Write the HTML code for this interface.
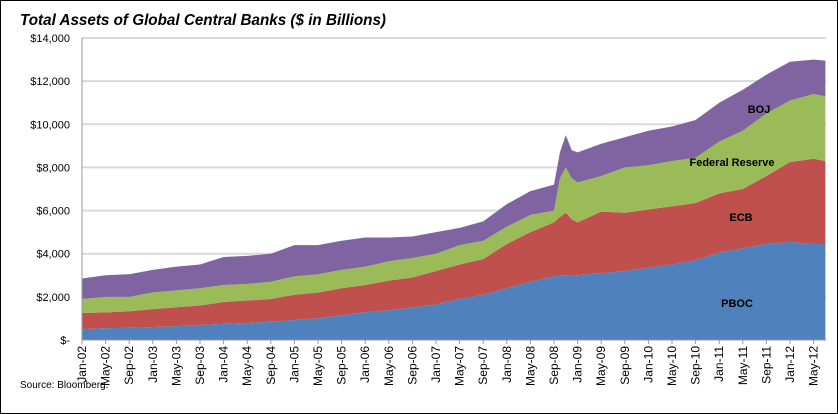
<!DOCTYPE html>
<html><head><meta charset="utf-8"><style>
body{margin:0;background:#fff;}
svg{display:block;font-family:"Liberation Sans",sans-serif;}
</style></head><body>
<svg width="838" height="414">
<rect x="0.5" y="0.5" width="837" height="413" fill="#fff" stroke="#000"/>
<text x="20" y="25" font-size="16" font-weight="bold" font-style="italic" fill="#000" textLength="366" lengthAdjust="spacingAndGlyphs">Total Assets of Global Central Banks ($ in Billions)</text>
<g id="grid"></g><g id="areas"></g><g id="axes"></g>
<text x="20" y="388" font-size="10" fill="#000">Source: Bloomberg.</text>
<text x="759" y="113" font-size="11" font-weight="bold" text-anchor="middle">BOJ</text>
<text x="732" y="166" font-size="11" font-weight="bold" text-anchor="middle">Federal Reserve</text>
<text x="741" y="221" font-size="11" font-weight="bold" text-anchor="middle">ECB</text>
<text x="737" y="307" font-size="11" font-weight="bold" text-anchor="middle">PBOC</text>
</svg>
<script>
const months=[0,4,8,12,16,20,24,28,32,36,40,44,48,52,56,60,64,68,72,76,80,81,82,83,84,88,92,96,100,104,108,112,116,120,124,126];
const pboc=[500,550,560,600,640,700,750,790,850,930,1000,1150,1280,1380,1500,1650,1900,2100,2400,2700,2950,2970,2980,2990,3000,3100,3200,3350,3500,3700,4050,4250,4450,4550,4450,4450];
const ecb=[750,730,770,830,880,900,1010,1040,1050,1170,1200,1250,1270,1370,1400,1550,1600,1650,2050,2300,2500,2730,2920,2610,2450,2850,2700,2700,2700,2650,2750,2750,3150,3700,3950,3850];
const fed=[650,720,670,770,780,800,790,770,800,850,850,850,850,900,900,800,900,850,800,800,550,1800,2100,1900,1850,1650,2100,2050,2100,2100,2400,2700,2900,2850,3000,3000];
const boj=[950,1000,1050,1050,1100,1100,1300,1300,1300,1450,1350,1350,1350,1100,1000,1000,800,900,1050,1100,1200,1200,1500,1300,1400,1500,1400,1600,1600,1750,1800,1900,1800,1800,1600,1650];
const yTicks=[0,2000,4000,6000,8000,10000,12000,14000];
const yTickLabels=["$-","$2,000","$4,000","$6,000","$8,000","$10,000","$12,000","$14,000"];
const xTickLabels=["Jan-02","May-02","Sep-02","Jan-03","May-03","Sep-03","Jan-04","May-04","Sep-04","Jan-05","May-05","Sep-05","Jan-06","May-06","Sep-06","Jan-07","May-07","Sep-07","Jan-08","May-08","Sep-08","Jan-09","May-09","Sep-09","Jan-10","May-10","Sep-10","Jan-11","May-11","Sep-11","Jan-12","May-12"];
const NS="http://www.w3.org/2000/svg";
const X0=82,PX=5.9,Y0=340,YTOP=38;
const xs=m=>X0+m*PX;
const ys=v=>Y0-v/14000*(Y0-YTOP);
function mk(t,a,p){const e=document.createElementNS(NS,t);for(const k in a)e.setAttribute(k,a[k]);p.appendChild(e);return e;}
const grid=document.getElementById('grid'),axes=document.getElementById('axes'),areas=document.getElementById('areas');
yTicks.forEach((v,i)=>{
 if(v>0){const l=mk('line',{x1:X0,x2:826,y1:ys(v),y2:ys(v),stroke:'#d9d9d9','stroke-width':2},grid);
 
 }
 const t=mk('text',{x:70,y:ys(v)+4,'font-size':11,'text-anchor':'end',fill:'#000'},axes);
 t.textContent=yTickLabels[i];
 
 
});
const series=[pboc,ecb,fed,boj],colors=['#4f81bd','#c0504d','#9bbb59','#8064a2'],names=['area-pboc','area-ecb','area-federal-reserve','area-boj'];
let base=months.map(()=>0);
series.forEach((s,si)=>{
 const top=s.map((v,i)=>base[i]+v);
 let d='M'+months.map((m,i)=>xs(m)+','+ys(top[i])).join('L');
 for(let i=months.length-1;i>=0;i--)d+='L'+xs(months[i])+','+ys(base[i]);
 d+='Z';
 const p=mk('path',{d:d,fill:colors[si]},areas);
 
 
 base=top;
});
const ax=mk('line',{x1:X0,x2:X0,y1:YTOP,y2:Y0+4,stroke:'#999'},axes);


const bx=mk('line',{x1:X0,x2:826,y1:Y0,y2:Y0,stroke:'#999'},axes);


xTickLabels.forEach((lab,i)=>{
 const x=xs(i*4);
 const tk=mk('line',{x1:x,x2:x,y1:Y0,y2:Y0+4,stroke:'#999'},axes);
 
 
 const t=mk('text',{x:0,y:0,'font-size':12,'text-anchor':'end',transform:`translate(${x+4},${Y0+6}) rotate(-90)`},axes);
 t.textContent=lab;
 
 
});
</script>
</body></html>
